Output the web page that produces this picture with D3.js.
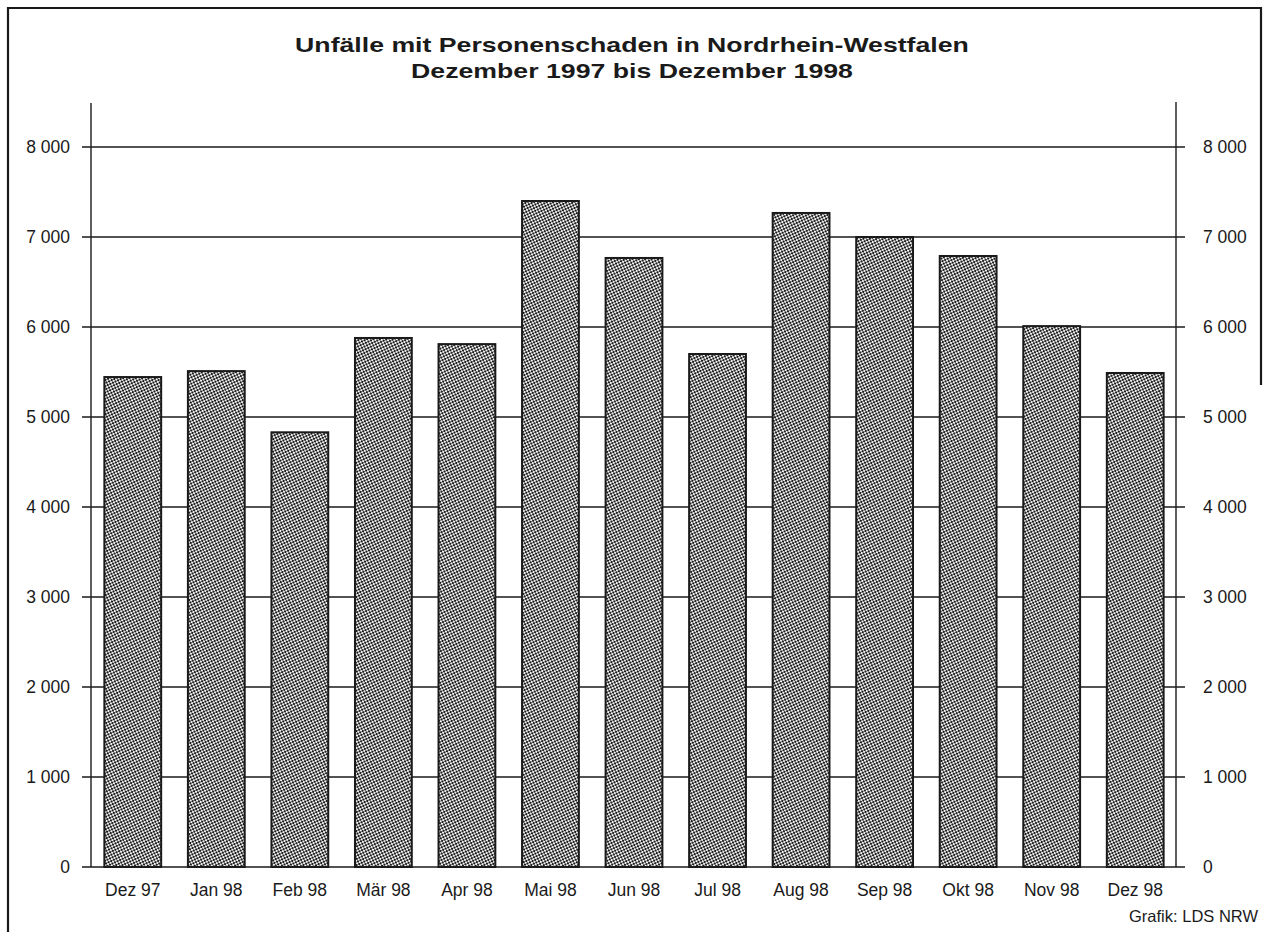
<!DOCTYPE html>
<html>
<head>
<meta charset="utf-8">
<script src="https://cdn.jsdelivr.net/npm/d3@7"></script>
<style>
html,body{margin:0;padding:0;background:#fff;}
svg{display:block;font-family:"Liberation Sans",Arial,sans-serif;}
</style>
</head>
<body>
<svg id="chart" width="1264" height="932"></svg>
<script>
const categories = ["Dez 97","Jan 98","Feb 98","Mär 98","Apr 98","Mai 98","Jun 98","Jul 98","Aug 98","Sep 98","Okt 98","Nov 98","Dez 98"];
const values = [5444, 5510, 4830, 5878, 5810, 7400, 6767, 5700, 7267, 7000, 6789, 6010, 5489];
const tickValues = [0,1000,2000,3000,4000,5000,6000,7000,8000];
const titleLines = ["Unfälle mit Personenschaden in Nordrhein-Westfalen","Dezember 1997 bis Dezember 1998"];
const sourceText = "Grafik: LDS NRW";

const svg = d3.select("#chart");
const ink = "#1a1a1a";

// pattern
const defs = svg.append("defs");
const pat = defs.append("pattern").attr("id","chk").attr("patternUnits","userSpaceOnUse")
  .attr("width",4).attr("height",4).attr("patternTransform","rotate(20)");
pat.append("rect").attr("width",4).attr("height",4).attr("fill","#f2f2f2");
pat.append("rect").attr("x",0).attr("y",0).attr("width",2).attr("height",2).attr("fill","#1c1c1c");
pat.append("rect").attr("x",2).attr("y",2).attr("width",2).attr("height",2).attr("fill","#1c1c1c");

// frame
svg.append("path").attr("d","M8,932 L8,8 L1261,8 L1261,385")
  .attr("fill","none").attr("stroke",ink).attr("stroke-width",2.2);

const x = d3.scaleBand().domain(categories).range([91,1177]).paddingInner(0.32).paddingOuter(0.16);
const y = d3.scaleLinear().domain([0,8000]).range([867,147]);

// gridlines
svg.append("g").selectAll("line").data(tickValues).join("line")
  .attr("x1",82).attr("x2",1185)
  .attr("y1",d=>y(d)).attr("y2",d=>y(d))
  .attr("stroke",ink).attr("stroke-width",1.7);

// axes lines
svg.append("line").attr("x1",91).attr("x2",91).attr("y1",103).attr("y2",y(0)).attr("stroke",ink).attr("stroke-width",1.4);
svg.append("line").attr("x1",1176).attr("x2",1176).attr("y1",102).attr("y2",y(0)).attr("stroke",ink).attr("stroke-width",1.4);

// bars
svg.append("g").selectAll("rect").data(values).join("rect")
  .attr("x",(d,i)=>x(categories[i]))
  .attr("width",x.bandwidth())
  .attr("y",d=>y(d))
  .attr("height",d=>y(0)-y(d))
  .attr("fill","url(#chk)")
  .attr("stroke",ink).attr("stroke-width",2);

// tick labels
const fmt = d => d===0 ? "0" : d3.format(",")(d).replace(",", " ");
svg.append("g").selectAll("text").data(tickValues).join("text")
  .attr("x",70).attr("y",d=>y(d)).attr("dy","0.36em")
  .attr("text-anchor","end").attr("font-size",17.5).attr("fill",ink)
  .text(fmt);
svg.append("g").selectAll("text").data(tickValues).join("text")
  .attr("x",1203).attr("y",d=>y(d)).attr("dy","0.36em")
  .attr("text-anchor","start").attr("font-size",17.5).attr("fill",ink)
  .text(fmt);

// x labels
svg.append("g").selectAll("text").data(categories).join("text")
  .attr("x",d=>x(d)+x.bandwidth()/2).attr("y",896)
  .attr("text-anchor","middle").attr("font-size",17.5).attr("fill",ink)
  .text(d=>d);

// title
const tg = svg.append("g");
tg.selectAll("text").data(titleLines).join("text")
  .attr("x",632).attr("y",(d,i)=>52+i*26)
  .attr("text-anchor","middle").attr("font-size",21).attr("font-weight","bold").attr("fill",ink)
  .text(d=>d)
  .each(function(){
    const w = this.getComputedTextLength();
    d3.select(this).attr("textLength", w*1.27).attr("lengthAdjust","spacingAndGlyphs");
  });

// source
svg.append("text").attr("x",1258).attr("y",922).attr("text-anchor","end")
  .attr("font-size",16.5).attr("fill",ink).text(sourceText);
</script>
</body>
</html>
